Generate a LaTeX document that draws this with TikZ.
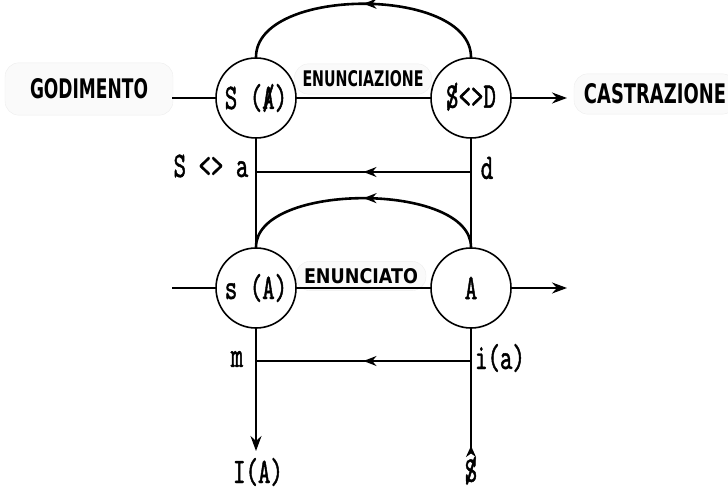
\documentclass[tikz,border=0pt]{standalone}
\usepackage{fontspec}
\usepackage{graphicx}
\newfontfamily\labfont{lmmono10-regular.otf}[FakeStretch=0.66,FakeBold=1.2]
\newfontfamily\handfont{DejaVu Sans}
\usetikzlibrary{arrows.meta,decorations.markings}
\newcommand{\barred}[1]{\ooalign{#1\cr\hidewidth/\hidewidth}}
\newcommand{\hand}[3]{\resizebox{#1}{#2}{\handfont\bfseries #3}}
\tikzset{
  knot/.style={circle, draw, line width=1.6pt, minimum size=80pt, inner sep=0pt, font=\fontsize{36}{40}\labfont},
  lab/.style={font=\fontsize{36}{40}\labfont, inner sep=1pt},
  blob/.style={fill=black!2, draw=black!7, rounded corners=14pt, inner xsep=8pt, inner ysep=7pt},
  wire/.style={line width=1.6pt},
  arcline/.style={line width=2.6pt},
  midarrow/.style={postaction={decorate}, decoration={markings, mark=at position 0.5 with {\arrow{Stealth[length=13pt,width=10pt]}}}},
  >={Stealth[length=15pt,width=11pt]}
}
\begin{document}
\begin{tikzpicture}[x=1pt,y=-1pt]
\useasboundingbox (0,0) rectangle (728,494);
% labels
\node[blob, inner xsep=25pt, inner ysep=16pt] (godimento) at (89,89) {\hand{118pt}{20pt}{GODIMENTO}};
\node[blob, inner xsep=10pt, inner ysep=10pt] (castrazione) at (655,94) {\hand{142pt}{20pt}{CASTRAZIONE}};
\node[blob] (enunciazione) at (363,79) {\hand{121pt}{16pt}{ENUNCIAZIONE}};
\node[blob] (enunciato) at (361,276) {\hand{114pt}{15pt}{ENUNCIATO}};
% nodes
\node[knot] (SA) at (256,98) {S (\barred{A})};
\node[knot] (SD) at (471,98) {\barred{S}<>D};
\node[knot] (sA) at (256,288) {s (A)};
\node[knot] (A) at (471,288) {A};
\coordinate (god) at (172,98);
\coordinate (cas) at (567,98);
\coordinate (lin) at (172,288);
\coordinate (out) at (567,288);
\coordinate (sa) at (256,172);
\coordinate (d) at (471,172);
\coordinate (m) at (256,361);
\coordinate (ia) at (471,361);
\coordinate (IA) at (256,451);
\coordinate (bS) at (471,457);
\node[lab] (lsa) at (211,166) {S <> a};
\node[lab] (ld) at (487,168) {d};
\node[lab] (lm) at (237,359) {m};
\node[lab] (lia) at (500,358) {i(a)};
\node[lab] (lIA) at (258,472) {I(A)};
\node[lab] (lbS) at (471,472) {\barred{S}};
% upper line
\draw[wire] (god) -- (SA);
\draw[wire] (SA) -- (SD);
\draw[wire,->] (SD) -- (cas);
\draw[arcline,midarrow] (SD.north) to[out=90,in=90,looseness=0.85] (SA.north);
% lower line
\draw[wire] (lin) -- (sA);
\draw[wire] (sA) -- (A);
\draw[wire,->] (A) -- (out);
\draw[arcline,midarrow] (A.north) to[out=90,in=90,looseness=0.78] (sA.north);
% verticals
\draw[wire] (SA) -- (sA);
\draw[wire] (SD) -- (A);
\draw[wire,midarrow] (d) -- (sa);
\draw[wire,midarrow] (ia) -- (m);
\draw[wire,->] (sA) -- (IA);
\draw[wire,{Stealth[length=11pt,width=10pt,reversed]}-] (bS) -- (A);
\end{tikzpicture}
\end{document}
